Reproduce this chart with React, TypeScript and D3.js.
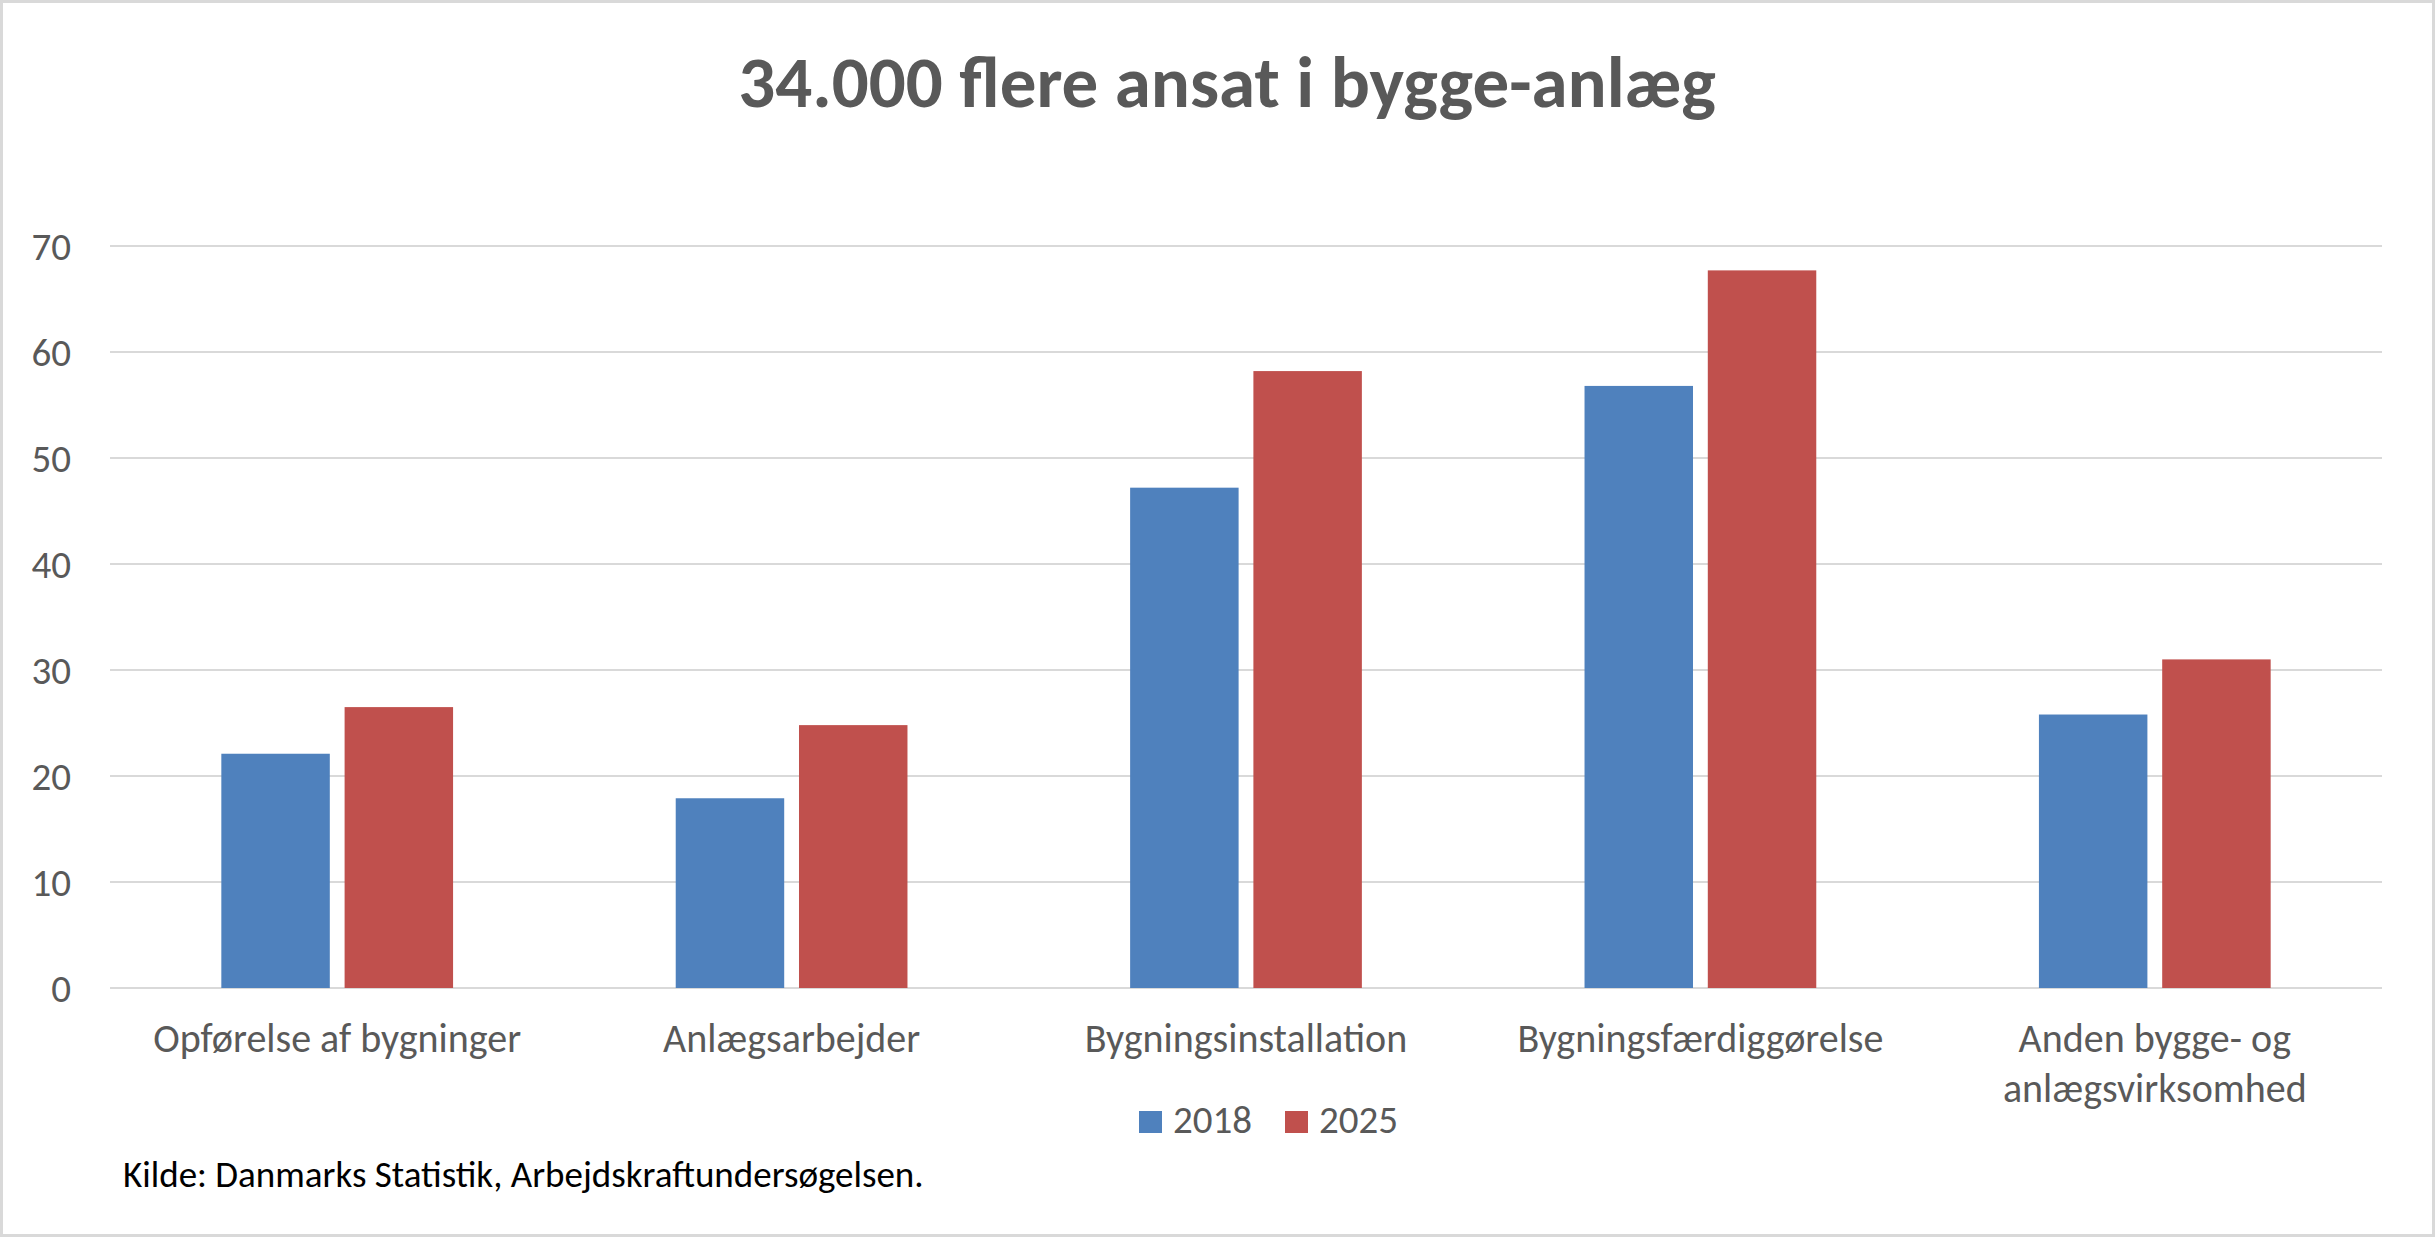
import { useEffect, useRef } from 'react';
import * as d3 from 'd3';

const categories = [
  ['Opførelse af bygninger'],
  ['Anlægsarbejder'],
  ['Bygningsinstallation'],
  ['Bygningsfærdiggørelse'],
  ['Anden bygge- og', 'anlægsvirksomhed'],
];
const seriesNames = ['2018', '2025'];
const values2018 = [22.1, 17.9, 47.2, 56.8, 25.8];
const values2025 = [26.5, 24.8, 58.2, 67.7, 31.0];
const yTicks = [0, 10, 20, 30, 40, 50, 60, 70];

const colors = ['#4f81bd', '#c0504d'];
const textGrey = '#595959';
const font = 'Carlito, Lato, sans-serif';

export default function App() {
  const ref = useRef<SVGSVGElement>(null);

  useEffect(() => {
    document.body.style.margin = '0';
    document.body.style.overflow = 'hidden';
    if (!ref.current) return;

    const width = 2435;
    const height = 1237;
    const svg = d3.select(ref.current);
    svg.selectAll('*').remove();
    svg.attr('width', width).attr('height', height);

    // frame
    svg.append('rect')
      .attr('x', 0).attr('y', 0)
      .attr('width', width).attr('height', height)
      .attr('fill', '#fff')
      .attr('stroke', '#d9d9d9')
      .attr('stroke-width', 6);

    // title
    svg.append('text')
      .attr('x', 1227)
      .attr('y', 107)
      .attr('text-anchor', 'middle')
      .attr('fill', textGrey)
      .attr('font-family', font)
      .attr('font-weight', 700)
      .attr('font-size', 73)
      .text('34.000 flere ansat i bygge-anlæg');

    const x0 = d3.scaleBand<number>()
      .domain(d3.range(categories.length))
      .range([110, 2382]);
    const bw = x0.bandwidth();
    const x1 = d3.scaleBand<number>()
      .domain([0, 1])
      .range([bw * 0.245, bw * 0.755])
      .paddingInner(0.12);

    const y = d3.scaleLinear().domain([0, 70]).range([988, 246]);

    // gridlines
    svg.append('g')
      .selectAll('line')
      .data(yTicks)
      .join('line')
      .attr('x1', 110).attr('x2', 2382)
      .attr('y1', d => y(d)).attr('y2', d => y(d))
      .attr('stroke', '#d9d9d9')
      .attr('stroke-width', 2);

    // y tick labels
    svg.append('g')
      .selectAll('text')
      .data(yTicks)
      .join('text')
      .attr('x', 71)
      .attr('y', d => y(d))
      .attr('dy', '0.36em')
      .attr('text-anchor', 'end')
      .attr('fill', textGrey)
      .attr('font-family', font)
      .attr('font-size', 39)
      .text(d => d);

    // bars
    const series = [values2018, values2025];
    series.forEach((vals, s) => {
      svg.append('g')
        .selectAll('rect')
        .data(vals)
        .join('rect')
        .attr('x', (_, i) => (x0(i) ?? 0) + (x1(s) ?? 0))
        .attr('y', d => y(d))
        .attr('width', x1.bandwidth())
        .attr('height', d => y(0) - y(d))
        .attr('fill', colors[s]);
    });

    // category labels
    const cat = svg.append('g')
      .selectAll('text')
      .data(categories)
      .join('text')
      .attr('x', (_, i) => (x0(i) ?? 0) + bw / 2)
      .attr('y', 1052)
      .attr('text-anchor', 'middle')
      .attr('fill', textGrey)
      .attr('font-family', font)
      .attr('font-size', 40);
    cat.selectAll('tspan')
      .data(d => d)
      .join('tspan')
      .attr('x', function () {
        return (this.parentNode as SVGTextElement).getAttribute('x');
      })
      .attr('dy', (_, j) => (j === 0 ? 0 : 50))
      .text(d => d);

    // legend
    const legendX = [1139, 1285];
    const legend = svg.append('g')
      .selectAll('g')
      .data(seriesNames)
      .join('g');
    legend.append('rect')
      .attr('x', (_, i) => legendX[i])
      .attr('y', 1111)
      .attr('width', 23)
      .attr('height', 22)
      .attr('fill', (_, i) => colors[i]);
    legend.append('text')
      .attr('x', (_, i) => legendX[i] + 34)
      .attr('y', 1133)
      .attr('fill', textGrey)
      .attr('font-family', font)
      .attr('font-size', 39)
      .text(d => d);

    // source
    svg.append('text')
      .attr('x', 123)
      .attr('y', 1187)
      .attr('fill', '#000')
      .attr('font-family', font)
      .attr('font-size', 37)
      .text('Kilde: Danmarks Statistik, Arbejdskraftundersøgelsen.');
  }, []);

  return <svg ref={ref} style={{ display: 'block' }} />;
}
